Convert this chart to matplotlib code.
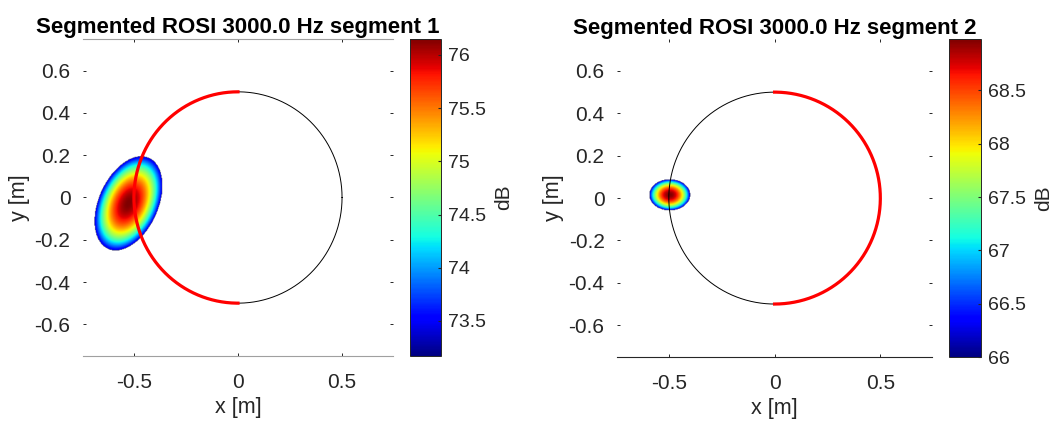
import numpy as np
import matplotlib.pyplot as plt

plt.rcParams['font.family'] = ['Liberation Sans', 'DejaVu Sans']

freq_hz = 3000.0
mic_radius = 0.5
# red arc of each segment (degrees)
seg_arcs = [(90, 270), (-90, 90)]
# source blob: centre, peak / floor dB, semi axes, tilt (deg)
blob_cx = [-0.528, -0.497]
blob_cy = [-0.03, 0.015]
blob_peak = [76.15, 68.98]
blob_floor = [73.17, 66.0]
blob_a = [0.245, 0.1]
blob_b = [0.147, 0.076]
blob_tilt = [65, 0]
cb_ticks = [[73.5, 74, 74.5, 75, 75.5, 76], [66, 66.5, 67, 67.5, 68, 68.5]]

gray = '#262626'
fig = plt.figure(figsize=(10.54, 4.21), dpi=100)
ax_pos = [[0.0787, 0.1544, 0.2942, 0.753], [0.5854, 0.152, 0.299, 0.755]]
cb_pos = [[0.389, 0.1544, 0.0294, 0.753], [0.9004, 0.152, 0.0304, 0.755]]

xs = np.linspace(-0.75, 0.75, 500)
X, Y = np.meshgrid(xs, xs)
for i in range(2):
    ax = fig.add_axes(ax_pos[i])
    t = np.deg2rad(blob_tilt[i])
    dx = X - blob_cx[i]
    dy = Y - blob_cy[i]
    u = dx*np.cos(t) + dy*np.sin(t)
    v = -dx*np.sin(t) + dy*np.cos(t)
    r2 = (u/blob_a[i])**2 + (v/blob_b[i])**2
    Z = blob_peak[i] - (blob_peak[i]-blob_floor[i])*r2
    Z = np.ma.masked_where(r2 > 0.93, Z)
    im = ax.imshow(Z, origin='lower', extent=(-0.75, 0.75, -0.75, 0.75),
                   cmap='jet', vmin=blob_floor[i], vmax=blob_peak[i],
                   interpolation='bilinear')
    th = np.linspace(0, 2*np.pi, 400)
    ax.plot(mic_radius*np.cos(th), mic_radius*np.sin(th), color='k', lw=0.7)
    ta = np.deg2rad(np.linspace(seg_arcs[i][0], seg_arcs[i][1], 200))
    ax.plot(mic_radius*np.cos(ta), mic_radius*np.sin(ta), color='red', lw=2.3)
    ax.set_xlim(-0.745, 0.745)
    ax.set_ylim(-0.75, 0.75)
    ax.set_aspect('auto')
    ax.set_xticks([-0.5, 0, 0.5])
    ax.set_yticks([-0.6, -0.4, -0.2, 0, 0.2, 0.4, 0.6])
    ax.set_xticklabels(['-0.5', '0', '0.5'])
    ax.set_yticklabels(['-0.6', '-0.4', '-0.2', '0', '0.2', '0.4', '0.6'])
    ax.tick_params(direction='in', length=2.5, width=0.7, colors=gray,
                   labelsize=15, top=True, right=True)
    ax.tick_params(axis='x', pad=12)
    ax.tick_params(axis='y', pad=9)
    for s in ['left', 'right']:
        ax.spines[s].set_visible(False)
    if i == 0:
        ax.spines['top'].set_color('#a0a0a0')
        ax.spines['bottom'].set_color('#a0a0a0')
    else:
        ax.spines['top'].set_visible(False)
        ax.spines['bottom'].set_color(gray)
    ax.set_xlabel('x [m]', fontsize=15.5, color=gray, labelpad=4)
    ax.set_ylabel('y [m]', fontsize=15.5, color=gray, labelpad=3)
    ax.set_title(f'Segmented ROSI {freq_hz:.1f} Hz segment {i+1}',
                 fontsize=16, fontweight='bold', pad=4)
    cax = fig.add_axes(cb_pos[i])
    cb = fig.colorbar(im, cax=cax)
    cb.set_ticks(cb_ticks[i])
    cb.set_ticklabels([f'{v:g}' for v in cb_ticks[i]])
    cb.ax.tick_params(direction='in', length=2.5, colors=gray, labelsize=14,
                      pad=5)
    cb.outline.set_edgecolor(gray)
    cb.outline.set_linewidth(0.7)
    cb.set_label('dB', fontsize=15, color=gray, labelpad=6)

fig.savefig('out.png', dpi=100)
